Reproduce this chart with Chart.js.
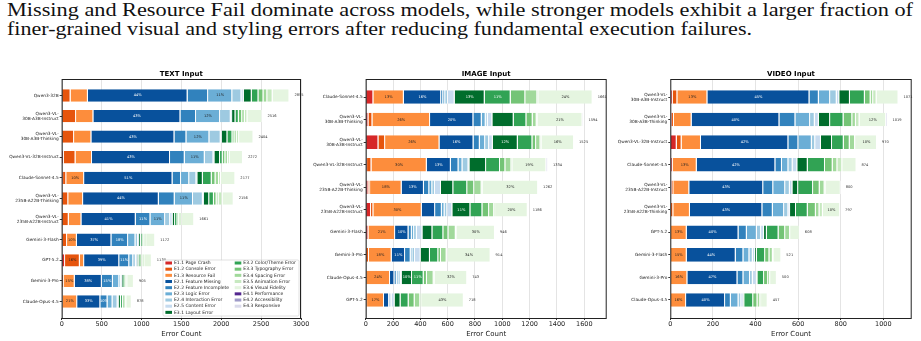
<!DOCTYPE html>
<html>
<head>
<meta charset="utf-8">
<script src="https://cdn.jsdelivr.net/npm/chart.js@4.4.1/dist/chart.umd.min.js"></script>
<style>
html, body { margin: 0; padding: 0; background: #fff; }
body { width: 921px; height: 341px; position: relative; overflow: hidden; }
#caption { position: absolute; left: 0; top: 0; }
canvas { position: absolute; top: 60px; }
</style>
</head>
<body>
<svg id="caption" width="921" height="60">
  <text x="7" y="15.5" textLength="906" lengthAdjust="spacingAndGlyphs" font-family="Liberation Serif" font-size="19" fill="#111">Missing and Resource Fail dominate across models, while stronger models exhibit a larger fraction of</text>
  <text x="7" y="34.8" textLength="745" lengthAdjust="spacingAndGlyphs" font-family="Liberation Serif" font-size="19" fill="#111">finer-grained visual and styling errors after reducing fundamental execution failures.</text>
</svg>
<canvas id="textChart" width="310" height="281" style="left:0px"></canvas>
<canvas id="imageChart" width="305" height="281" style="left:308px"></canvas>
<canvas id="videoChart" width="308" height="281" style="left:613px"></canvas>
<script>
// error taxonomy (stack order)
var errorTypes = [
  "E1.1 Page Crash", "E1.2 Console Error", "E1.3 Resource Fail",
  "E2.1 Feature Missing", "E2.2 Feature Incomplete", "E2.3 Logic Error",
  "E2.4 Interaction Error", "E2.5 Content Error", "E3.1 Layout Error",
  "E3.2 Color/Theme Error", "E3.3 Typography Error", "E3.4 Spacing Error",
  "E3.5 Animation Error", "E3.6 Visual Fidelity", "E4.1 Performance",
  "E4.2 Accessibility", "E4.3 Responsive"
];
var errorColors = [
  "#d62728", "#e6550d", "#fd8d3c",
  "#08519c", "#3182bd", "#6baed6", "#9ecae1", "#c6dbef",
  "#006d2c", "#31a354", "#74c476", "#a1d99b", "#c7e9c0", "#e5f5e0",
  "#54278f", "#9e9ac8", "#dadaeb"
];
// white percentage text on these segments
var whiteText = [1, 0, 0, 1, 1, 0, 0, 0, 1, 1, 0, 0, 0, 0, 1, 0, 0];

// TEXT input: one row per model, one value per error type
var textModels = [
  "Qwen3-32B", ["Qwen3-VL-", "30B-A3B-Instruct"], ["Qwen3-VL-", "30B-A3B-Thinking"],
  "Qwen3-VL-32B-Instruct", "Claude-Sonnet-4.5", ["Qwen3-VL-", "235B-A22B-Thinking"],
  ["Qwen3-VL-", "235B-A22B-Instruct"], "Gemini-3-Flash", "GPT-5.2", "Gemini-3-Pro", "Claude-Opus-4.5"
];
var textCounts = [
  [0, 111, 217, 1250, 257, 303, 115, 29, 100, 84, 63, 48, 67, 211, 0, 0, 0],
  [0, 180, 217, 1091, 196, 301, 134, 17, 42, 42, 42, 33, 33, 188, 0, 0, 0],
  [0, 155, 217, 1041, 150, 288, 142, 13, 71, 63, 25, 29, 30, 180, 0, 0, 0],
  [25, 148, 207, 978, 184, 251, 109, 12, 71, 33, 33, 33, 21, 167, 0, 0, 0],
  [17, 40, 224, 1108, 107, 102, 90, 12, 69, 111, 48, 44, 25, 180, 0, 0, 0],
  [0, 82, 186, 949, 199, 230, 123, 13, 67, 59, 33, 25, 50, 140, 0, 0, 0],
  [0, 88, 159, 681, 184, 184, 63, 31, 31, 29, 17, 17, 17, 160, 0, 0, 0],
  [8, 59, 123, 433, 209, 92, 33, 13, 21, 21, 17, 13, 17, 113, 0, 0, 0],
  [42, 185, 54, 440, 125, 50, 33, 21, 17, 17, 17, 17, 17, 95, 0, 0, 0],
  [0, 29, 134, 340, 138, 80, 21, 13, 15, 15, 15, 15, 15, 75, 0, 0, 0],
  [0, 10, 184, 290, 90, 63, 63, 13, 29, 25, 17, 17, 17, 60, 0, 0, 0]
];

// IMAGE input
var imageModels = [
  "Claude-Sonnet-4.5", ["Qwen3-VL-", "30B-A3B-Thinking"], ["Qwen3-VL-", "30B-A3B-Instruct"],
  "Qwen3-VL-32B-Instruct", ["Qwen3-VL-", "235B-A22B-Thinking"], ["Qwen3-VL-", "235B-A22B-Instruct"],
  "Gemini-3-Flash", "Gemini-3-Pro", "Claude-Opus-4.5", "GPT-5.2"
];
var imageCounts = [
  [56, 0, 223, 273, 15, 15, 20, 49, 220, 190, 107, 88, 7, 398, 0, 0, 0],
  [20, 29, 422, 317, 61, 29, 15, 34, 156, 93, 46, 29, 7, 329, 0, 0, 7],
  [93, 49, 398, 249, 46, 39, 29, 27, 183, 107, 27, 32, 7, 239, 0, 0, 0],
  [10, 32, 405, 176, 56, 29, 44, 7, 122, 102, 39, 44, 7, 249, 0, 0, 12],
  [20, 12, 231, 163, 39, 22, 20, 44, 90, 102, 51, 54, 7, 407, 0, 0, 0],
  [39, 17, 354, 98, 49, 20, 20, 37, 132, 88, 49, 37, 7, 239, 0, 0, 0],
  [20, 0, 195, 98, 24, 17, 20, 41, 73, 80, 37, 54, 7, 280, 0, 0, 0],
  [0, 24, 166, 98, 41, 12, 20, 41, 68, 61, 20, 41, 7, 315, 0, 0, 0],
  [0, 0, 178, 32, 17, 12, 17, 7, 76, 85, 24, 49, 7, 239, 0, 0, 0],
  [0, 10, 124, 37, 5, 5, 10, 20, 44, 59, 44, 41, 7, 312, 0, 0, 0]
];

// VIDEO input
var videoModels = [
  ["Qwen3-VL-", "30B-A3B-Instruct"], ["Qwen3-VL-", "30B-A3B-Thinking"], "Qwen3-VL-32B-Instruct",
  "Claude-Sonnet-4.5", ["Qwen3-VL-", "235B-A22B-Instruct"], ["Qwen3-VL-", "235B-A22B-Thinking"],
  "GPT-5.2", "Gemini-3-Flash", "Gemini-3-Pro", "Claude-Opus-4.5"
];
var videoCounts = [
  [11, 22, 141, 479, 44, 53, 31, 12, 50, 70, 27, 12, 16, 103, 0, 0, 0],
  [8, 9, 83, 412, 75, 69, 22, 19, 53, 63, 41, 17, 17, 125, 0, 0, 6],
  [30, 23, 91, 410, 47, 63, 16, 27, 52, 55, 28, 25, 4, 99, 0, 0, 0],
  [11, 0, 113, 369, 31, 30, 20, 22, 49, 81, 36, 22, 23, 67, 0, 0, 0],
  [7, 7, 75, 347, 47, 56, 22, 12, 27, 70, 31, 23, 4, 72, 0, 0, 0],
  [0, 14, 78, 340, 49, 53, 20, 8, 28, 55, 38, 17, 16, 81, 0, 0, 0],
  [0, 0, 77, 243, 39, 47, 20, 14, 13, 55, 31, 23, 4, 42, 0, 0, 0],
  [0, 0, 77, 230, 36, 28, 16, 11, 8, 39, 20, 16, 4, 36, 0, 0, 0],
  [0, 0, 80, 235, 28, 31, 13, 19, 3, 31, 19, 9, 4, 28, 0, 0, 0],
  [0, 0, 74, 183, 27, 36, 13, 11, 3, 42, 20, 13, 4, 31, 0, 0, 0]
];

Chart.defaults.font.family = "DejaVu Sans";
Chart.defaults.color = "#222";

// frame, title, percentages, totals, legend
var panelDecor = {
  id: 'panelDecor',
  afterDatasetsDraw: function(chart, args, opts) {
    var ctx = chart.ctx;
    var area = chart.chartArea;
    var xs = chart.scales.x;
    ctx.save();
    ctx.font = '3.6px "DejaVu Sans"';
    ctx.textBaseline = 'middle';
    ctx.textAlign = 'center';
    chart.data.datasets.forEach(function(ds, k) {
      chart.getDatasetMeta(k).data.forEach(function(bar, i) {
        var v = ds.data[i].x;
        if (v / opts.totals[i] < 0.1) return;
        ctx.fillStyle = whiteText[k] ? '#fff' : '#222';
        ctx.fillText(Math.round(v / opts.totals[i] * 100) + '%', (bar.x + bar.base) / 2, bar.y);
      });
    });
    ctx.textAlign = 'left';
    ctx.fillStyle = '#333';
    var meta0 = chart.getDatasetMeta(0);
    opts.totals.forEach(function(t, i) {
      ctx.fillText(String(t), xs.getPixelForValue(t) + 5, meta0.data[i].y);
    });

    // axes frame
    ctx.strokeStyle = '#222';
    ctx.lineWidth = 1;
    ctx.strokeRect(area.left + 0.5, area.top + 0.5, area.right - area.left - 1, area.bottom - area.top);

    // title
    ctx.font = 'bold 7px "DejaVu Sans"';
    ctx.fillStyle = '#000';
    ctx.textAlign = 'center';
    ctx.textBaseline = 'alphabetic';
    ctx.fillText(opts.title, (area.left + area.right) / 2, area.top - 3);

    if (opts.legend) {
      var bw = 136, bh = 56;
      var bx = area.right - 2 - bw, by = area.bottom - 2 - bh;
      ctx.fillStyle = 'rgba(255,255,255,0.85)';
      ctx.strokeStyle = '#cccccc';
      ctx.lineWidth = 0.6;
      ctx.beginPath();
      ctx.roundRect(bx, by, bw, bh, 1.5);
      ctx.fill();
      ctx.stroke();
      ctx.font = '4.5px "DejaVu Sans"';
      ctx.textBaseline = 'middle';
      ctx.textAlign = 'left';
      errorTypes.forEach(function(name, k) {
        var col = k < 9 ? 0 : 1;
        var row = k < 9 ? k : k - 9;
        var cy = by + 3 + row * 6.17;
        var sx = bx + 2.4 + col * 69.3;
        ctx.fillStyle = errorColors[k];
        ctx.fillRect(sx, cy - 1.5, 6.6, 3);
        ctx.fillStyle = '#222';
        ctx.fillText(name, sx + 8.6, cy);
      });
    }
    ctx.restore();
  }
};

function makePanel(canvasId, title, models, counts, xMax, xStep, axisWidth, rightPad, showLegend) {
  var totals = counts.map(function(row) { return row.reduce(function(a, b) { return a + b; }, 0); });
  var datasets = errorTypes.map(function(name, k) {
    return {
      label: name,
      data: counts.map(function(row, i) { return { x: row[k], y: i }; }),
      backgroundColor: errorColors[k],
      borderColor: '#ffffff',
      borderWidth: { top: 0, bottom: 0, left: 0, right: 1 },
      borderSkipped: false,
      barPercentage: 0.6,
      categoryPercentage: 1
    };
  });
  return new Chart(document.getElementById(canvasId), {
    type: 'bar',
    data: { datasets: datasets },
    plugins: [panelDecor],
    options: {
      indexAxis: 'y',
      responsive: false,
      animation: false,
      events: [],
      layout: { padding: { top: 19, right: rightPad, left: 0, bottom: 0 } },
      plugins: {
        legend: { display: false },
        tooltip: { enabled: false },
        panelDecor: { totals: totals, title: title, legend: showLegend }
      },
      scales: {
        x: {
          type: 'linear',
          stacked: true,
          min: 0,
          max: xMax,
          border: { display: false },
          grid: { color: '#e4e4e4', lineWidth: 1, tickColor: '#333', tickLength: 2 },
          afterBuildTicks: function(scale) {
            var t = [];
            for (var v = 0; v <= xMax + 0.01; v += xStep) t.push({ value: v });
            scale.ticks = t;
          },
          ticks: {
            maxRotation: 0, padding: 0, font: { size: 6.5 }, color: '#222',
            callback: function(v) { return String(v); }
          },
          title: { display: true, text: 'Error Count', font: { size: 7 }, color: '#222', padding: { top: 0, bottom: 3 } },
          afterFit: function(scale) { scale.height = 23; }
        },
        y: {
          type: 'linear',
          stacked: true,
          reverse: true,
          offset: false,
          min: -0.8,
          max: models.length - 1 + 0.8,
          border: { display: false },
          grid: { offset: false, drawOnChartArea: false, tickColor: '#333', tickLength: 2 },
          afterBuildTicks: function(scale) {
            scale.ticks = models.map(function(m, i) { return { value: i }; });
          },
          ticks: {
            padding: 1,
            autoSkip: false,
            font: { size: 4.3, lineHeight: 1.15 },
            color: '#222',
            callback: function(v) { return models[v]; }
          },
          afterFit: function(scale) { scale.width = axisWidth; }
        }
      }
    }
  });
}

makePanel('textChart', 'TEXT Input', textModels, textCounts, 3000, 500, 61.7, 9, true);
makePanel('imageChart', 'IMAGE Input', imageModels, imageCounts, 1764, 200, 57.7, 6.3, false);
makePanel('videoChart', 'VIDEO Input', videoModels, videoCounts, 1133, 200, 57.3, 9.3, false);
</script>
</body>
</html>
